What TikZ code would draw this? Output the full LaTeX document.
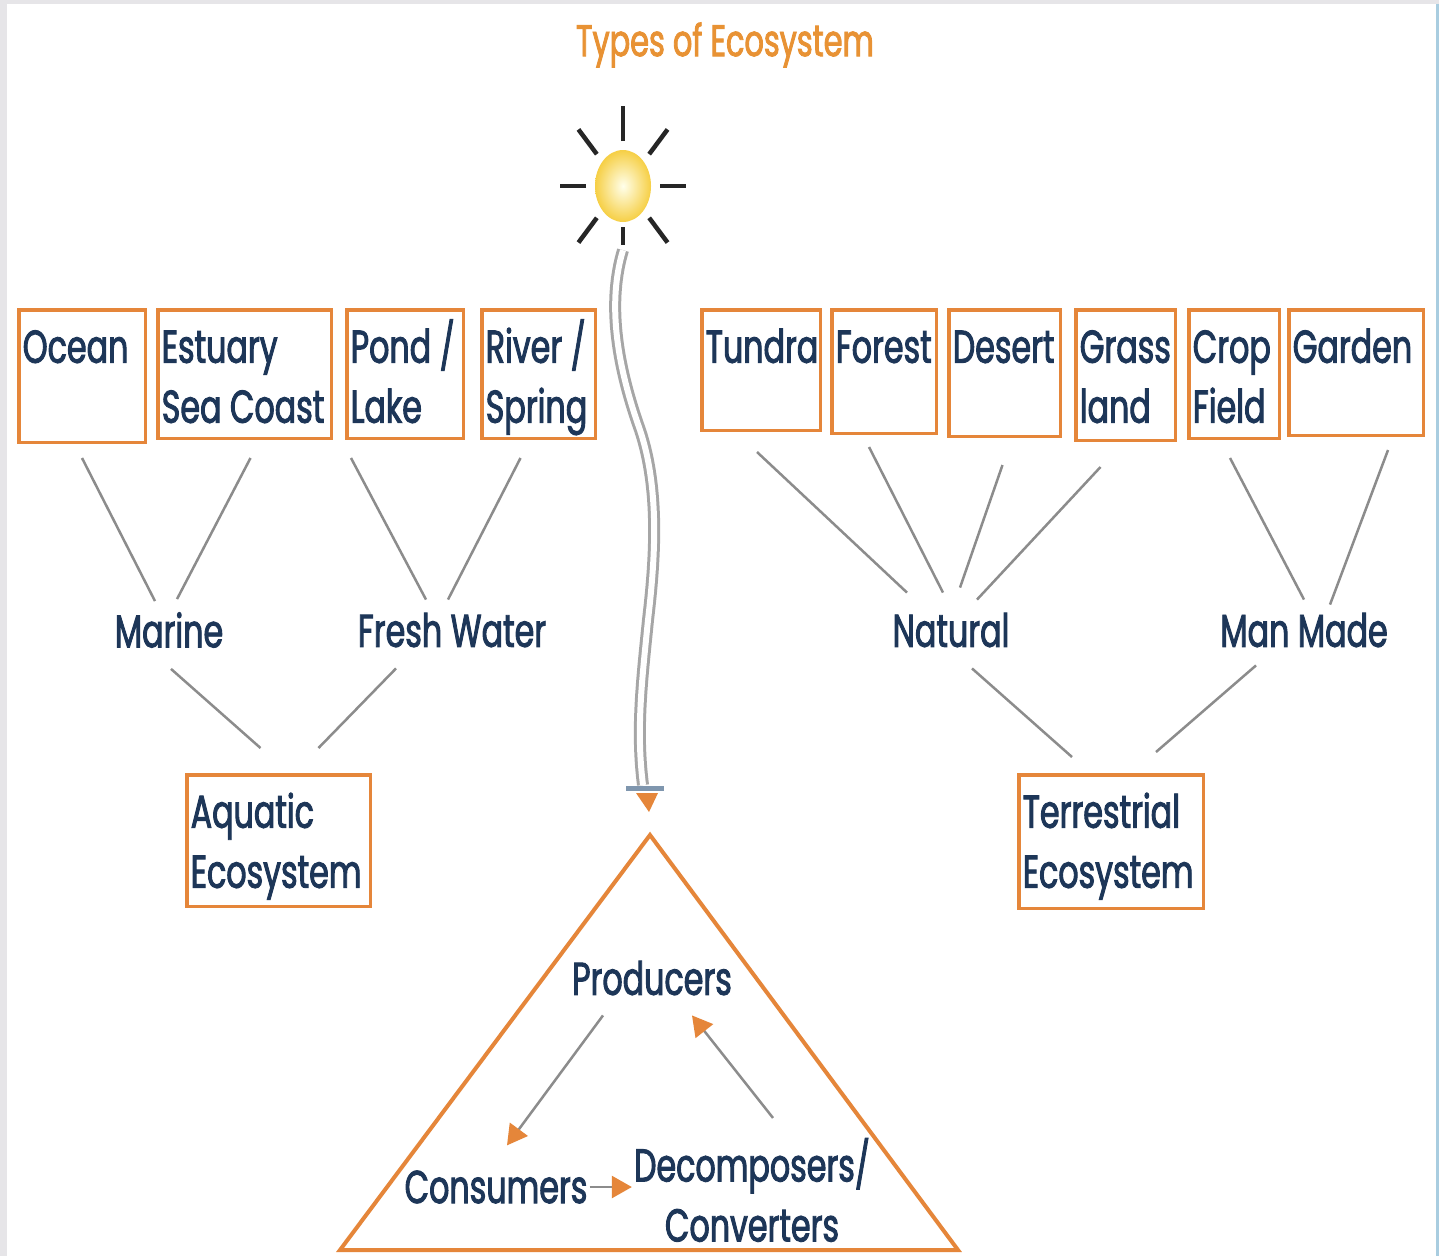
\documentclass[tikz,border=0pt]{standalone}
\usepackage{fontspec}
\setmainfont{Poppins}[FakeStretch=0.69, FakeBold=2]
\usepackage{xcolor}
\usetikzlibrary{positioning,calc,arrows.meta,shapes.geometric}
\definecolor{ecoorange}{HTML}{E5863A}
\definecolor{econavy}{HTML}{1D3658}
\definecolor{ecogray}{HTML}{8C8C8C}
\definecolor{framegray}{HTML}{E6E5E8}
\definecolor{frameblue}{HTML}{A9CDE0}
\definecolor{barblue}{HTML}{7F96AE}
\definecolor{sunyellow}{HTML}{F6CF45}
\newcommand{\boxfont}{\fontsize{46}{60}\selectfont}
\newcommand{\cell}[3]{\parbox[t][\dimexpr#2-21.5pt\relax][t]{\dimexpr#1-11.5pt\relax}{\raggedright\rule{0pt}{44pt}#3}}
\tikzset{
  eco/.style     = { draw=ecoorange, line width=3.5pt, fill=white, anchor=north west,
                     inner xsep=4pt, inner ysep=9pt, font=\boxfont, text=econavy },
  kind/.style    = { font=\boxfont, text=econavy, inner sep=2pt },
  heading/.style = { font=\fontsize{44}{50}\selectfont, text=ecoorange!90!yellow },
  link/.style    = { ecogray, line width=2.5pt },
  flow/.style    = { ecogray, line width=2.5pt, -{Triangle[ecoorange, length=20pt, width=22pt]} },
  ray/.style     = { black!85, line width=4.5pt },
  sun/.style     = { ellipse, minimum width=56pt, minimum height=72pt, inner sep=0pt,
                     inner color=yellow!8, outer color=sunyellow },
  beam/.style    = { draw=gray!70, line width=3pt, double=white, double distance=6pt },
  pyramid/.style = { ecoorange, line width=4pt }
}
\begin{document}
\begin{tikzpicture}[x=1pt, y=-1pt]
  % frame
  \useasboundingbox (0,0) rectangle (1439,1256);
  \fill[framegray] (0,0) rectangle (1439,1256);
  \fill[white] (7,4) rectangle (1436,1256);
  \fill[frameblue] (1436,4) rectangle (1439,1256);
  \node[heading] (title) at (725,45) {Types of Ecosystem};
  % Draw the sun and its beam
  \node[sun] (sun) at (623,186) {};
  \foreach \a in {0,45,90,135,180,225,315}
    \draw[ray] ($(sun.center)+(\a:37pt and 45pt)$) -- ($(sun.center)+(\a:63pt and 80pt)$);
  \draw[ray] ([yshift=-5pt]sun.south) -- ([yshift=-23pt]sun.south);
  \coordinate (beamend) at (643,785);
  \draw[beam] ([yshift=-28pt]sun.south) .. controls (608,300) and (615,360) .. (640,430)
     .. controls (660,490) and (655,560) .. (648,620)
     .. controls (642,680) and (636,730) .. (beamend);
  \draw[barblue, line width=5pt] ([xshift=-17pt,yshift=-3pt]beamend) -- ([xshift=21pt,yshift=-3pt]beamend);
  \fill[ecoorange] ([xshift=-7pt,yshift=-8pt]beamend) -- ([xshift=15pt,yshift=-8pt]beamend)
     -- ([xshift=6pt,yshift=-27pt]beamend) -- cycle;
  % Draw all boxes
  \node[eco] (ocean)   at (17,308)  {\cell{130pt}{136pt}{Ocean}};
  \node[eco] (estuary) at (156,308) {\cell{177pt}{132pt}{Estuary\\Sea~Coast}};
  \node[eco] (pond)    at (345,308) {\cell{120pt}{132pt}{Pond~/\\Lake}};
  \node[eco] (river)   at (480,308) {\cell{117pt}{132pt}{River~/\\Spring}};
  \node[eco] (tundra)  at (700,308) {\cell{122pt}{124pt}{Tundra}};
  \node[eco] (forest)  at (830,308) {\cell{108pt}{127pt}{Forest}};
  \node[eco] (desert)  at (947,308) {\cell{115pt}{130pt}{Desert}};
  \node[eco] (grass)   at (1074,308) {\cell{103pt}{134pt}{Grass\\land}};
  \node[eco] (crop)    at (1187,308) {\cell{94pt}{132pt}{Crop\\Field}};
  \node[eco] (garden)  at (1287,308) {\cell{138pt}{129pt}{Garden}};
  \node[eco] (aquatic) at (185,773) {\cell{187pt}{135pt}{Aquatic\\Ecosystem}};
  \node[eco] (terrestrial) at (1017,773) {\cell{188pt}{137pt}{Terrestrial\\Ecosystem}};
  % Draw groups
  \node[kind] (marine)  at (169,630)  {Marine};
  \node[kind] (fresh)   at (452,630)  {Fresh Water};
  \node[kind] (natural) at (951,630)  {Natural};
  \node[kind] (manmade) at (1304,630) {Man Made};
  % Draw links
  \draw[link] ([yshift=-14pt]ocean.south) -- ([xshift=-14pt,yshift=9pt]marine.north);
  \draw[link] ([xshift=6pt,yshift=-18pt]estuary.south) -- ([xshift=8pt,yshift=11pt]marine.north);
  \draw[link] ([xshift=-54pt,yshift=-18pt]pond.south) -- ([xshift=-26pt,yshift=11pt]fresh.north);
  \draw[link] ([xshift=-18pt,yshift=-18pt]river.south) -- ([xshift=-4pt,yshift=11pt]fresh.north);
  \draw[link] ([xshift=2pt,yshift=-19pt]marine.south) -- ([xshift=-18pt,yshift=25pt]aquatic.north);
  \draw[link] ([xshift=-56pt,yshift=-19pt]fresh.south) -- ([xshift=40pt,yshift=25pt]aquatic.north);
  \draw[link] ([xshift=-4pt,yshift=-20pt]tundra.south) -- ([xshift=-44pt,yshift=18pt]natural.north);
  \draw[link] ([xshift=-15pt,yshift=-12pt]forest.south) -- ([xshift=-8pt,yshift=18pt]natural.north);
  \draw[link] ([xshift=-2pt,yshift=-27pt]desert.south) -- ([xshift=9pt,yshift=23pt]natural.north);
  \draw[link] ([xshift=-25pt,yshift=-25pt]grass.south) -- ([xshift=26pt,yshift=11pt]natural.north);
  \draw[link] ([xshift=-4pt,yshift=-18pt]crop.south) -- ([yshift=11pt]manmade.north);
  \draw[link] ([xshift=32pt,yshift=-13pt]garden.south) -- ([xshift=26pt,yshift=6pt]manmade.north);
  \draw[link] ([xshift=21pt,yshift=-19pt]natural.south) -- ([xshift=-39pt,yshift=16pt]terrestrial.north);
  \draw[link] ([xshift=-48pt,yshift=-16pt]manmade.south) -- ([xshift=45pt,yshift=21pt]terrestrial.north);
  % Draw the pyramid
  \coordinate (apex) at (650,835);
  \coordinate (baseleft) at (340,1250);
  \coordinate (baseright) at (958,1250);
  \draw[pyramid] (apex) -- (baseleft) -- (baseright) -- cycle;
  \node[kind] (prod)   at (652,978)  {Producers};
  \node[kind] (cons)   at (496,1187) {Consumers};
  \node[kind, align=center] (decomp) at (752,1190) {Decomposers/\\Converters};
  \draw[flow] ([xshift=-49pt,yshift=-18pt]prod.south) -- ([xshift=11pt,yshift=23pt]cons.north);
  \draw[flow] (cons.east) -- (cons.east -| decomp.west);
  \draw[flow] ([xshift=21pt,yshift=18pt]decomp.north) -- ([xshift=40pt,yshift=-18pt]prod.south);
\end{tikzpicture}
\end{document}
